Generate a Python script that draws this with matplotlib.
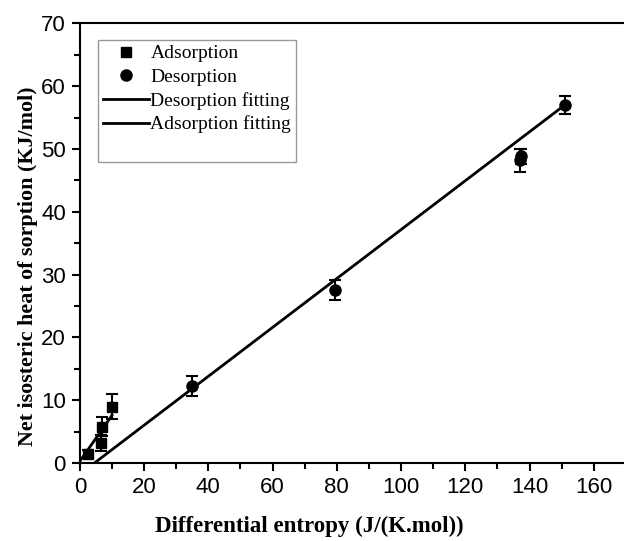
import numpy as np
import matplotlib.pyplot as plt
from matplotlib.lines import Line2D
from matplotlib.ticker import MultipleLocator

# adsorption data
ads_x = [2.5, 6.5, 7.0, 10.0]
ads_y = [1.5, 3.2, 5.8, 9.0]
ads_err = [0.6, 1.2, 1.5, 2.0]

# desorption data
des_x = [35.0, 79.5, 137.0, 137.5, 151.0]
des_y = [12.3, 27.5, 48.2, 48.8, 57.0]
des_err = [1.6, 1.6, 1.8, 1.2, 1.4]

# fitted lines (end points)
des_fit_x = [4.5, 151.0]
des_fit_y = [0.0, 57.0]
ads_fit_x = [0.0, 10.0]
ads_fit_y = [0.3, 7.6]

serif = ['Liberation Serif', 'DejaVu Serif']
sans = ['Liberation Sans', 'DejaVu Sans']

fig = plt.figure(figsize=(6.24, 5.41), dpi=100)
ax = fig.add_axes([0.128, 0.144, 0.875, 0.813])

ax.errorbar(ads_x, ads_y, yerr=ads_err, fmt='s', color='black', ms=7,
            capsize=4, elinewidth=1.5, capthick=1.5)
ax.errorbar(des_x, des_y, yerr=des_err, fmt='o', color='black', ms=8,
            capsize=4, elinewidth=1.5, capthick=1.5)
ax.plot(des_fit_x, des_fit_y, color='black', lw=2)
ax.plot(ads_fit_x, ads_fit_y, color='black', lw=2)

ax.set_xlim(0, 170)
ax.set_ylim(0, 70)
ax.xaxis.set_major_locator(MultipleLocator(20))
ax.xaxis.set_minor_locator(MultipleLocator(10))
ax.yaxis.set_major_locator(MultipleLocator(10))
ax.yaxis.set_minor_locator(MultipleLocator(5))
ax.tick_params(which='both', direction='out', width=1.5)
ax.tick_params(which='major', length=6, labelsize=16, pad=4)
ax.tick_params(which='minor', length=4)
for lab in ax.get_xticklabels() + ax.get_yticklabels():
    lab.set_family(sans)
for s in ax.spines.values():
    s.set_linewidth(1.5)

ax.set_xlabel('Differential entropy (J/(K.mol))', family=serif, fontsize=16.5,
              fontweight='bold', labelpad=12)
ax.xaxis.set_label_coords(0.42, -0.12)
ax.set_ylabel('Net isosteric heat of sorption (KJ/mol)', family=serif,
              fontsize=15.8, fontweight='bold')
ax.yaxis.set_label_coords(-0.076, 0.448)

handles = [
    Line2D([], [], ls='none', marker='s', color='black', ms=7),
    Line2D([], [], ls='none', marker='o', color='black', ms=8),
    Line2D([], [], color='black', lw=2),
    Line2D([], [], color='black', lw=2),
    Line2D([], [], ls='none'),
]
labels = ['Adsorption', 'Desorption', 'Desorption fitting', 'Adsorption fitting', ' ']
leg = ax.legend(handles, labels, loc='upper left', bbox_to_anchor=(0.033, 0.962),
                prop={'family': serif, 'size': 14}, frameon=True, fancybox=False,
                edgecolor='gray', handlelength=2.4, handletextpad=0.05,
                borderpad=0.25, labelspacing=0.3, borderaxespad=0)
leg.get_frame().set_linewidth(1.0)

fig.savefig('out.png', dpi=100)
